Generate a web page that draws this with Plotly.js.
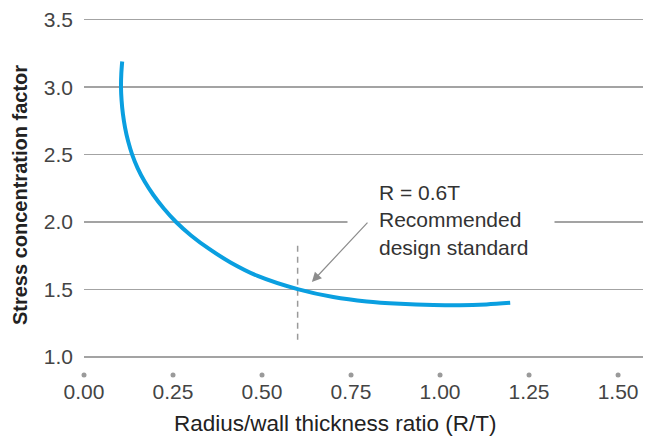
<!DOCTYPE html>
<html><head><meta charset="utf-8">
<script src="https://cdn.plot.ly/plotly-3.0.1.min.js"></script>
<style>html,body{margin:0;padding:0;background:#fff}#chart{width:660px;height:437px}</style>
</head><body><div id="chart"></div>
<script>
// Curve: radius/wall thickness ratio vs stress concentration factor
const ratio = [0.1073, 0.1048, 0.1039, 0.1056, 0.1093, 0.1153, 0.1238, 0.1353, 0.1506, 0.1703, 0.1948, 0.2241, 0.2586, 0.3006, 0.3516, 0.4116, 0.4876, 0.6026, 0.700, 0.794, 0.888, 0.981, 1.056, 1.130, 1.197];
const stressFactor = [3.19, 3.10, 3.00, 2.90, 2.80, 2.70, 2.60, 2.50, 2.40, 2.30, 2.20, 2.10, 2.00, 1.90, 1.80, 1.70, 1.60, 1.50, 1.443, 1.410, 1.393, 1.384, 1.382, 1.388, 1.400];

const xTickVals = [0, 0.25, 0.5, 0.75, 1.0, 1.25, 1.5];
const xTickText = ["0.00", "0.25", "0.50", "0.75", "1.00", "1.25", "1.50"];
const yTickVals = [1.0, 1.5, 2.0, 2.5, 3.0, 3.5];
const yTickText = ["1.0", "1.5", "2.0", "2.5", "3.0", "3.5"];

const recommendedRatio = [0.6, 0.6];
const recommendedSpan = [1.126, 1.853];
const arrowTip = {x: 0.64, y: 1.554};
const noteText = "R = 0.6T<br>Recommended<br>design standard";
const xTitle = "Radius/wall thickness ratio (R/T)";
const yTitle = "Stress concentration factor";

const FONT = '"Liberation Sans", Arial, Helvetica, sans-serif';

const traces = [
  {
    x: recommendedRatio, y: recommendedSpan, mode: 'lines', type: 'scatter',
    line: {color: '#9a9a9a', width: 1.5, dash: '6px,5px'}, hoverinfo: 'skip'
  },
  {
    x: ratio, y: stressFactor, mode: 'lines', type: 'scatter',
    line: {color: '#0a9fe0', width: 4, shape: 'spline', smoothing: 1}
  },
  {
    x: xTickVals, y: xTickVals.map(() => 0.865), mode: 'markers', type: 'scatter',
    marker: {color: '#9a9a9a', size: 5}, cliponaxis: false, hoverinfo: 'skip'
  }
];

const layout = {
  width: 660, height: 437,
  margin: {l: 84, r: 17, t: 13, b: 60},
  paper_bgcolor: '#ffffff', plot_bgcolor: '#ffffff',
  showlegend: false,
  font: {family: FONT, color: '#444', size: 21},
  xaxis: {
    range: [0, 1.57], showgrid: false, zeroline: false, showline: false,
    tickvals: xTickVals, ticktext: xTickText, ticks: '',
    tickfont: {family: FONT, size: 21, color: '#444'},
    ticklabelstandoff: 0
  },
  yaxis: {
    range: [0.85, 3.55], showgrid: true, gridcolor: '#a3a3a3', gridwidth: 1.5,
    zeroline: false, showline: false,
    tickvals: yTickVals, ticktext: yTickText, ticks: '',
    tickfont: {family: FONT, size: 21, color: '#444'},
    ticklabelstandoff: 10,
    title: {text: yTitle, font: {family: FONT, size: 20, color: '#222', weight: 'bold'}, standoff: 10}
  },
  annotations: [
    {
      xref: 'x', yref: 'y', x: 0.739, y: 2.0, xanchor: 'left', yanchor: 'middle',
      text: '', showarrow: false, width: 206, height: 6, bgcolor: '#ffffff', borderpad: 0
    },
    {
      xref: 'x', yref: 'y', x: 0.826, y: 2.012, xanchor: 'left', yanchor: 'middle', align: 'left',
      text: noteText, showarrow: false, font: {family: FONT, size: 21, color: '#333'}, borderpad: 0
    },
    {
      xref: 'x', yref: 'y', x: arrowTip.x, y: arrowTip.y, text: '', showarrow: true,
      ax: 57, ay: -61, arrowhead: 2, arrowsize: 1.6, arrowwidth: 1.2, arrowcolor: '#8c8c8c', standoff: 0
    },
    {
      xref: 'paper', yref: 'paper', x: 0.4508, y: -0.1286, xanchor: 'center', yanchor: 'middle',
      text: xTitle, showarrow: false, font: {family: FONT, size: 22.5, color: '#222'}
    }
  ]
};

Plotly.newPlot('chart', traces, layout, {staticPlot: true, displayModeBar: false});
</script>
</body></html>
